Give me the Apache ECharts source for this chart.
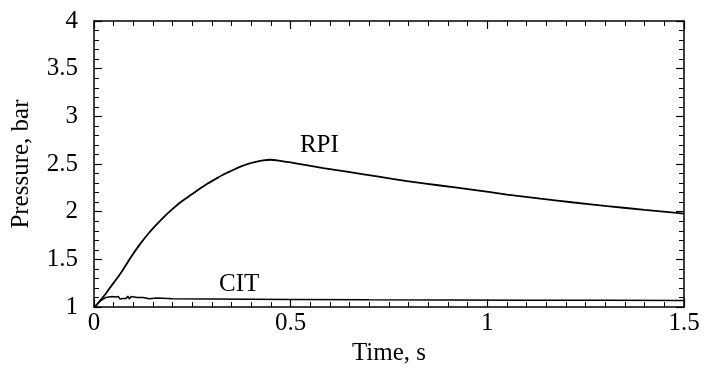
<!DOCTYPE html>
<html>
<head>
<meta charset="utf-8">
<script src="https://cdn.jsdelivr.net/npm/echarts@6/dist/echarts.min.js"></script>
<style>
  html, body { margin: 0; padding: 0; background: #fff; }
  #chart { width: 707px; height: 371px; }
</style>
</head>
<body>
<div id="chart"></div>
<script>
// Pressure traces: [time s, pressure bar]
const rpiData = [
  [0, 1.0], [0.005, 1.01], [0.01, 1.04], [0.02, 1.09], [0.03, 1.14], [0.04, 1.20],
  [0.06, 1.31], [0.075, 1.40], [0.095, 1.53], [0.117, 1.66], [0.14, 1.78],
  [0.16, 1.87], [0.18, 1.955], [0.20, 2.03], [0.22, 2.10], [0.244, 2.17],
  [0.265, 2.23], [0.287, 2.29], [0.31, 2.345], [0.329, 2.39], [0.35, 2.43],
  [0.371, 2.47], [0.39, 2.50], [0.414, 2.525], [0.43, 2.538], [0.448, 2.545],
  [0.47, 2.537], [0.5, 2.517], [0.54, 2.488], [0.583, 2.457], [0.651, 2.415],
  [0.72, 2.37], [0.796, 2.32], [0.88, 2.275], [0.965, 2.23], [1.05, 2.18],
  [1.135, 2.137], [1.22, 2.097], [1.305, 2.059], [1.4, 2.02], [1.5, 1.98]
];
const citData = [
  [0, 1.0], [0.008, 1.03], [0.015, 1.06], [0.022, 1.08], [0.03, 1.10],
  [0.034, 1.085], [0.038, 1.105], [0.042, 1.09], [0.046, 1.11], [0.05, 1.09],
  [0.054, 1.105], [0.058, 1.09], [0.062, 1.11], [0.066, 1.085], [0.07, 1.105],
  [0.074, 1.09], [0.078, 1.11], [0.082, 1.09], [0.086, 1.115], [0.09, 1.085],
  [0.094, 1.11], [0.098, 1.09], [0.102, 1.105], [0.106, 1.09], [0.11, 1.10],
  [0.115, 1.09], [0.125, 1.10], [0.14, 1.088], [0.16, 1.095], [0.2, 1.088],
  [0.3, 1.085], [0.4, 1.082], [0.5, 1.08], [0.7, 1.077], [0.9, 1.075],
  [1.1, 1.073], [1.3, 1.071], [1.5, 1.07]
];
const curveLabels = [
  { name: 'RPI', value: [0.573, 2.70] },
  { name: 'CIT', value: [0.369, 1.237] }
];
const xMin = 0, xMax = 1.5, xStep = 0.5;
const yMin = 1, yMax = 4, yStep = 0.5;

const font = 'Liberation Serif';
const ink = '#000';

function axisBase(extra) {
  return Object.assign({
    axisLine: { show: true, onZero: false, lineStyle: { color: ink, width: 1.5 } },
    axisTick: { show: true, inside: true, length: 8, lineStyle: { color: ink, width: 1.2 } },
    splitLine: { show: false },
    axisLabel: { show: false }
  }, extra);
}

const chart = echarts.init(document.getElementById('chart'));
chart.setOption({
  animation: false,
  backgroundColor: '#fff',
  grid: { left: 94, right: 23, top: 21, bottom: 59 },
  xAxis: [
    axisBase({
      type: 'value', position: 'bottom', min: xMin, max: xMax, interval: xStep,
      minorTick: { show: true, splitNumber: 10, length: 5, lineStyle: { color: ink, width: 1 } },
      axisLabel: { show: true, margin: 4, color: ink, fontFamily: font, fontSize: 25,
        formatter: v => String(v) },
      name: 'Time, s', nameLocation: 'middle', nameGap: 26,
      nameTextStyle: { color: ink, fontFamily: font, fontSize: 25 }
    }),
    axisBase({
      type: 'value', position: 'top', min: xMin, max: xMax, interval: xStep,
      minorTick: { show: true, splitNumber: 10, length: 5, lineStyle: { color: ink, width: 1 } }
    })
  ],
  yAxis: [
    axisBase({
      type: 'value', position: 'left', min: yMin, max: yMax, interval: yStep,
      minorTick: { show: true, splitNumber: 5, length: 5, lineStyle: { color: ink, width: 1 } },
      axisLabel: { show: true, margin: 16, color: ink, fontFamily: font, fontSize: 25,
        formatter: v => String(v) },
      name: 'Pressure, bar', nameLocation: 'middle', nameGap: 60,
      nameTextStyle: { color: ink, fontFamily: font, fontSize: 25 }
    }),
    axisBase({
      type: 'value', position: 'right', min: yMin, max: yMax, interval: yStep,
      minorTick: { show: true, splitNumber: 5, length: 5, lineStyle: { color: ink, width: 1 } }
    })
  ],
  series: [
    {
      name: 'RPI', type: 'line', data: rpiData, showSymbol: false, smooth: 0.2,
      lineStyle: { color: ink, width: 1.8 }
    },
    {
      name: 'CIT', type: 'line', data: citData, showSymbol: false,
      lineStyle: { color: ink, width: 1.5 }
    },
    {
      type: 'scatter', data: curveLabels, symbolSize: 0, silent: true,
      itemStyle: { opacity: 1 },
      label: { show: true, position: 'inside', formatter: p => p.name, opacity: 1,
        color: ink, fontFamily: font, fontSize: 25 }
    }
  ]
});
</script>
</body>
</html>
